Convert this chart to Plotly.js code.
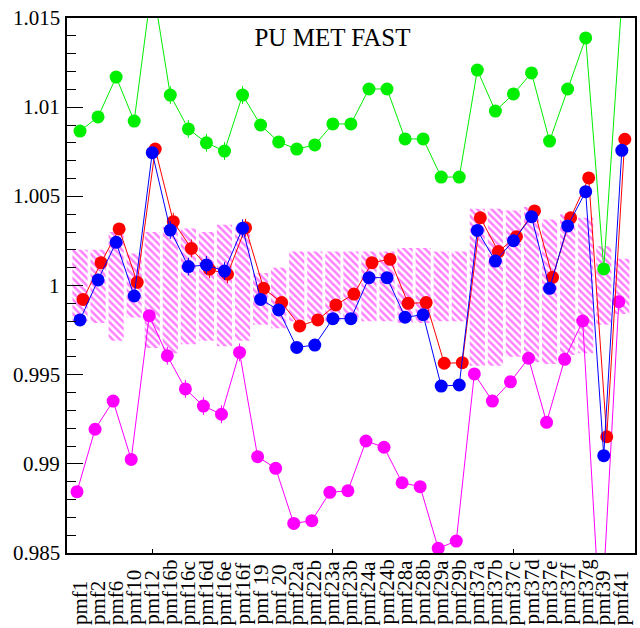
<!DOCTYPE html>
<html>
<head>
<meta charset="utf-8">
<script src="https://cdn.plot.ly/plotly-3.0.1.min.js"></script>
<style>html,body{margin:0;padding:0;background:#fff;}#chart{width:640px;height:628px;}</style>
</head>
<body>
<div id="chart"></div>
<script>
const categories = ["pmf1","pmf2","pmf6","pmf10","pmf12","pmf16b","pmf16c","pmf16d","pmf16e","pmf16f","pmf 19","pmf 20","pmf22a","pmf22b","pmf23a","pmf23b","pmf24a","pmf24b","pmf28a","pmf28b","pmf29a","pmf29b","pmf37a","pmf37b","pmf37c","pmf37d","pmf37e","pmf37f","pmf37g","pmf39","pmf41"];

const greenVals = [1.00866,1.00945,1.01169,1.00922,1.0170,1.01068,1.00878,1.00800,1.00754,1.01068,1.00900,1.00805,1.00765,1.00788,1.00906,1.00906,1.01102,1.01102,1.00822,1.00822,1.00608,1.00608,1.01208,1.00978,1.01074,1.01192,1.00810,1.01102,1.01388,1.00093,1.0160];
const redVals = [0.99922,1.00128,1.00317,1.00018,1.00765,1.00358,1.00208,1.00091,1.00063,1.00324,0.99984,0.99904,0.99773,0.99807,0.99891,0.99952,1.00128,1.00147,0.99900,0.99904,0.99564,0.99567,1.00380,1.00190,1.00274,1.00418,1.00046,1.00380,1.00603,0.99152,1.00820];
const blueVals = [0.99807,1.00031,1.00242,0.99941,1.00745,1.00311,1.00106,1.00115,1.00081,1.00321,0.99922,0.99863,0.99653,0.99666,0.99814,0.99814,1.00044,1.00044,0.99822,0.99836,0.99436,0.99442,1.00309,1.00137,1.00251,1.00386,0.99984,1.00334,1.00526,0.99046,1.00758];
const magentaVals = [0.98844,0.99194,0.99352,0.99025,0.99831,0.99606,0.99420,0.99324,0.99278,0.99625,0.99040,0.98975,0.98666,0.98681,0.98840,0.98849,0.99128,0.99093,0.98894,0.98872,0.98526,0.98567,0.99504,0.99352,0.99460,0.99592,0.99233,0.99586,0.99801,0.98050,0.99909];
const errVals = [0.0002,0.0002,0.0002,0.0002,0.0002,0.0005,0.0005,0.0005,0.0005,0.0005,0.0002,0.0002,0.0002,0.0002,0.0002,0.0002,0.0002,0.0002,0.0002,0.0002,0.0002,0.0002,0.0002,0.0002,0.0002,0.0002,0.0002,0.0002,0.0002,0.0002,0.0002];

const bandHigh = [1.0020,1.0020,1.0030,1.0018,1.0030,1.0033,1.0032,1.0030,1.0034,1.0033,1.0007,1.0010,1.0019,1.0019,1.0019,1.0019,1.0019,1.0019,1.0021,1.0021,1.0019,1.0019,1.0043,1.0043,1.0042,1.0044,1.0037,1.0040,1.0038,1.0022,1.0015];
const bandLow  = [0.9980,0.9979,0.9969,0.9982,0.9965,0.9962,0.9967,0.9969,0.9966,0.9969,0.9978,0.9976,0.9980,0.9980,0.9980,0.9980,0.9980,0.9980,0.9979,0.9979,0.9980,0.9980,0.9955,0.9955,0.9960,0.9957,0.9956,0.9961,0.9962,0.9978,0.9984];

const yTickVals = [0.985,0.99,0.995,1,1.005,1.01,1.015];
const yTickText = ["0.985","0.99","0.995","1","1.005","1.01","1.015"];
const xTickVals = [4,14,24];

const idx = categories.map((c,i)=>i);
const FONT = 'Liberation Serif';

function series(vals, color, shift){
  return {
    type:'scatter', mode:'lines+markers',
    x: idx.map(i=>i+shift), y: vals,
    line:{color:color, width:1},
    marker:{color:color, size:13},
    error_y:{type:'data', array:errVals, visible:true, color:color, thickness:1, width:0},
    showlegend:false, hoverinfo:'skip'
  };
}

const band = {
  type:'bar', x: idx, base: bandLow, y: bandHigh.map((h,i)=>h-bandLow[i]),
  width: 0.84,
  marker:{color:'rgba(0,0,0,0)', line:{width:0},
    pattern:{shape:'\\', fgcolor:'#ff00ff', bgcolor:'rgba(0,0,0,0)', size:5, solidity:0.5, fillmode:'overlay'}},
  showlegend:false, hoverinfo:'skip'
};

const data = [band,
  series(greenVals,'#00ee00',0),
  series(magentaVals,'#ff00ff',-0.166),
  series(redVals,'#ff0000',0.166),
  series(blueVals,'#0000ff',0)
];

const annotations = categories.map((c,i)=>({
  x:i, xref:'x', y:-0.1383, yref:'paper', text:c, textangle:-90,
  xanchor:'center', yanchor:'bottom', showarrow:false,
  font:{family:FONT, size:21, color:'#000'}
})).concat(yTickVals.map((v,i)=>({
  x:-0.008, xref:'paper', y:v, yref:'y', text:yTickText[i],
  xanchor:'right', yanchor:'middle', showarrow:false,
  font:{family:FONT, size:21, color:'#000'}
})));

const layout = {
  width:640, height:628,
  margin:{l:67, r:5, t:18, b:75},
  paper_bgcolor:'#fff', plot_bgcolor:'#fff',
  font:{family:FONT, size:21, color:'#000'},
  title:{text:'PU MET FAST', font:{family:FONT, size:25, color:'#000'},
    x:332.5/640, xanchor:'center', xref:'container', y:1-37/628, yanchor:'middle', yref:'container'},
  xaxis:{range:[-0.72,30.73], showgrid:false, zeroline:false,
    showline:true, linewidth:2, linecolor:'#000', mirror:true,
    tickmode:'array', tickvals:xTickVals, ticks:'inside', ticklen:4, tickcolor:'#000',
    showticklabels:false, automargin:false},
  yaxis:{range:[0.985,1.015], showgrid:false, zeroline:false,
    showline:true, linewidth:2, linecolor:'#000', mirror:true,
    tickmode:'linear', tick0:0.985, dtick:0.005,
    ticks:'inside', ticklen:16, tickwidth:1, tickcolor:'#000',
    minor:{tickmode:'linear', tick0:0.985, dtick:0.001, ticks:'inside', ticklen:9, tickwidth:1, tickcolor:'#000'},
    showticklabels:false, automargin:false},
  annotations: annotations,
  barmode:'overlay'
};

Plotly.newPlot('chart', data, layout, {displayModeBar:false, staticPlot:true});
</script>
</body>
</html>
